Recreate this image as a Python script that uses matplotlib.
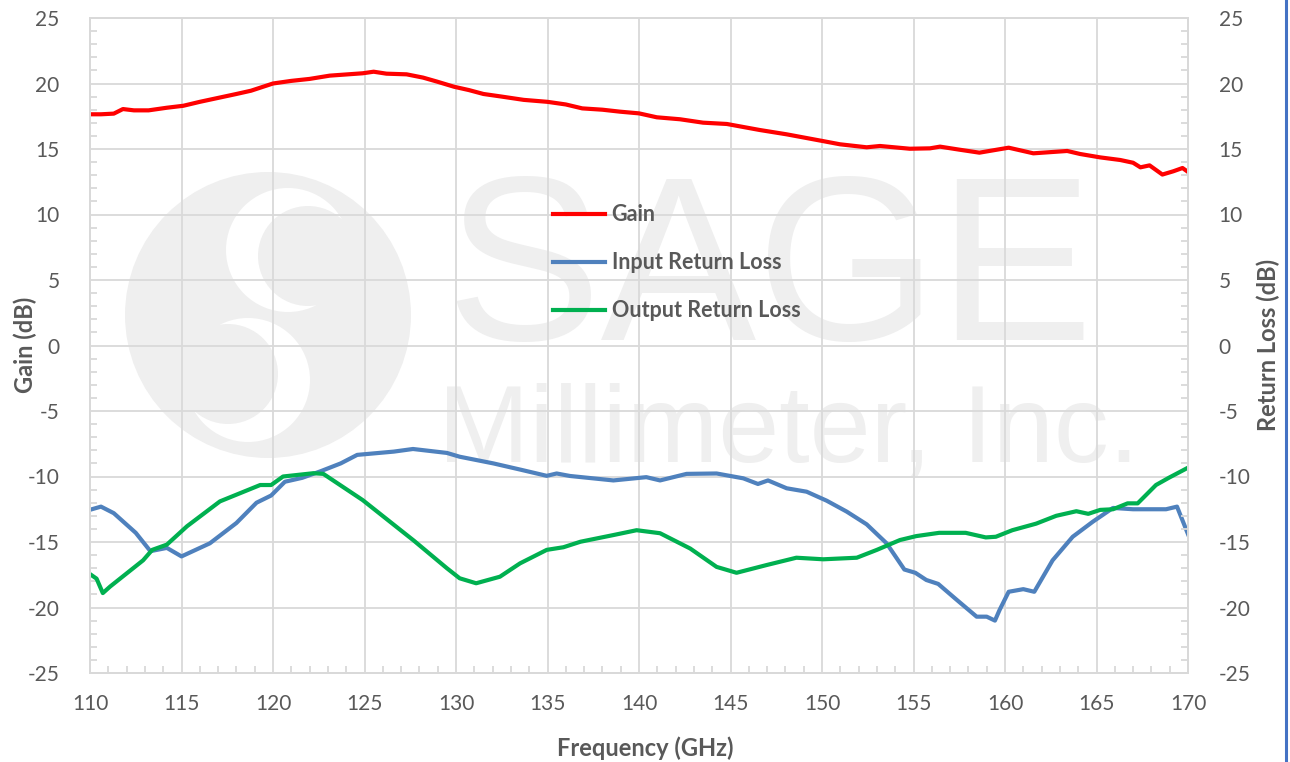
import numpy as np
import matplotlib
matplotlib.use('Agg')
import matplotlib.pyplot as plt
from matplotlib.patches import Circle
from matplotlib.lines import Line2D
from matplotlib.ticker import MultipleLocator

plt.rcParams['font.family'] = ['Lato', 'DejaVu Sans']
plt.rcParams['axes.unicode_minus'] = False

# Gain (dB) vs frequency (GHz)
gain_f = [110, 110.6, 111.3, 111.8, 112.4, 113.2, 114.2, 115.1, 116, 117,
          118, 118.8, 120, 121, 122, 123.1, 124.9, 125.5, 126.2, 127.3,
          128.2, 128.95, 129.9, 130.7, 131.5, 132.5, 133.7, 135, 136, 136.9,
          138, 138.96, 140, 140.97, 142.24, 143.5, 144.8, 146.6, 148.07, 150.07,
          150.98, 152.44, 153.17, 154.8, 155.9, 156.45, 157.5, 158.6, 160.2, 161.55,
          163.4, 164.1, 165.2, 166.3, 167.0, 167.4, 167.9, 168.6, 169.2, 169.7, 170]
gain = [17.65, 17.65, 17.7, 18.05, 17.95, 17.95, 18.15, 18.3, 18.6, 18.9,
        19.2, 19.45, 20.0, 20.2, 20.35, 20.6, 20.78, 20.9, 20.75, 20.7,
        20.45, 20.15, 19.75, 19.5, 19.2, 19.0, 18.75, 18.6, 18.4, 18.1,
        18.0, 17.85, 17.72, 17.42, 17.27, 17.01, 16.91, 16.45, 16.12, 15.6,
        15.36, 15.13, 15.23, 15.02, 15.05, 15.18, 14.95, 14.72, 15.1, 14.67,
        14.85, 14.62, 14.36, 14.16, 13.95, 13.6, 13.75, 13.05, 13.3, 13.55, 13.25]

# Input return loss
irl_f = [110.1, 110.6, 111.3, 112.5, 113.3, 114.2, 115.0, 116.55, 118.0, 119.1,
         119.9, 120.65, 121.6, 122.6, 123.7, 124.6, 126.6, 127.65, 129.5, 130.2,
         132.04, 133.5, 134.96, 135.5, 136.23, 138.6, 140.4, 141.15, 142.6, 144.24,
         145.7, 146.5, 147.05, 148.07, 149.16, 150.26, 151.35, 152.44, 153.53, 154.5,
         155.1, 155.7, 156.35, 157.35, 158.45, 159.0, 159.45, 159.7, 160.2, 161.0,
         161.6, 162.6, 163.7, 164.8, 165.9, 167.0, 168.8, 169.4, 170]
irl = [-12.5, -12.3, -12.8, -14.3, -15.7, -15.45, -16.1, -15.1, -13.55, -12.0,
       -11.45, -10.4, -10.1, -9.6, -9.0, -8.35, -8.1, -7.9, -8.2, -8.49,
       -9.0, -9.47, -9.95, -9.77, -9.96, -10.3, -10.05, -10.3, -9.8, -9.77,
       -10.14, -10.57, -10.3, -10.9, -11.16, -11.85, -12.68, -13.65, -15.1, -17.1,
       -17.35, -17.9, -18.2, -19.4, -20.7, -20.7, -21.0, -20.2, -18.8, -18.6,
       -18.8, -16.4, -14.6, -13.45, -12.4, -12.5, -12.5, -12.3, -14.4]

# Output return loss
orl_f = [110.0, 110.36, 110.7, 111.1, 112.0, 112.9, 113.4, 114.2, 115.3, 117.1,
         119.3, 119.9, 120.55, 122.2, 122.75, 124.9, 127.7, 129.5, 130.2, 131.1,
         132.4, 133.5, 134.96, 135.87, 136.8, 138.6, 139.87, 141.15, 142.8, 144.24,
         145.33, 146.97, 148.6, 150.07, 151.9, 153.0, 154.26, 155.15, 156.4, 157.85,
         158.95, 159.5, 160.4, 161.7, 162.8, 163.9, 164.55, 165.2, 165.9, 166.7,
         167.25, 168.25, 168.95, 169.9]
orl = [-17.45, -17.8, -18.9, -18.4, -17.4, -16.4, -15.6, -15.2, -13.8, -11.9,
       -10.65, -10.65, -10.0, -9.75, -9.8, -11.8, -14.9, -17.0, -17.77, -18.15,
       -17.65, -16.63, -15.6, -15.4, -14.98, -14.47, -14.1, -14.33, -15.5, -16.9,
       -17.35, -16.76, -16.2, -16.32, -16.2, -15.6, -14.85, -14.55, -14.3, -14.3,
       -14.65, -14.6, -14.1, -13.6, -13.0, -12.65, -12.85, -12.55, -12.5, -12.05,
       -12.05, -10.65, -10.1, -9.4]

txt = '#595959'
grid_c = '#d9d9d9'
wm = '#efefef'

fig = plt.figure(figsize=(12.9, 7.62), dpi=100)

# watermark layer, pixel coordinates
bg = fig.add_axes([0, 0, 1, 1], zorder=-1)
bg.set_xlim(0, 1290)
bg.set_ylim(762, 0)
bg.axis('off')
bg.add_patch(Circle((268, 315), 143, color=wm, lw=0))
bg.add_patch(Circle((288, 250), 62, color='white', lw=0))
bg.add_patch(Circle((248, 380), 62, color='white', lw=0))
bg.add_patch(Circle((308, 256), 50, color=wm, lw=0))
bg.add_patch(Circle((228, 374), 50, color=wm, lw=0))
bg.text(445, 340, 'SAGE', fontsize=168, color=wm, family='Liberation Sans',
        ha='left', va='baseline')
bg.text(438, 462, 'Millimeter, Inc.', fontsize=79, color=wm, family='Liberation Sans',
        ha='left', va='baseline')

ax = fig.add_axes([90/1290, 89/762, 1098/1290, 655/762])
ax.patch.set_visible(False)
ax2 = ax.twinx()

ax.plot(gain_f, gain, color='#ff0000', lw=3, label='Gain', solid_joinstyle='round')
ax.plot(irl_f, irl, color='#4f81bd', lw=3, label='Input Return Loss', solid_joinstyle='round')
ax.plot(orl_f, orl, color='#00b050', lw=3, label='Output Return Loss', solid_joinstyle='round')

for a in (ax, ax2):
    a.set_xlim(110, 170)
    a.set_ylim(-25, 25)
    a.yaxis.set_major_locator(MultipleLocator(5))
    a.yaxis.set_minor_locator(MultipleLocator(1))
    for s in a.spines.values():
        s.set_color(grid_c)
        s.set_linewidth(1.3)

ax.xaxis.set_major_locator(MultipleLocator(5))
ax.xaxis.set_minor_locator(MultipleLocator(1))
ax.grid(True, which='major', color=grid_c, lw=1.3)
ax.set_axisbelow(True)

ax.tick_params(which='major', length=0, labelsize=15, labelcolor=txt)
ax.tick_params(axis='x', which='major', pad=15)
ax.tick_params(axis='y', which='major', pad=22)
ax.tick_params(which='minor', direction='in', length=5, color=grid_c, width=1.3)
ax2.tick_params(which='major', length=0, labelsize=15, labelcolor=txt, pad=22)
ax2.tick_params(which='minor', direction='in', length=5, color=grid_c, width=1.3)

ax.set_xlabel('Frequency (GHz)', fontsize=17, fontweight='bold', color=txt)
ax.xaxis.set_label_coords(0.5, 14/762, transform=fig.transFigure)
ax.xaxis.label.set_va('center')
ax.set_ylabel('Gain (dB)', fontsize=17, fontweight='bold', color=txt)
ax.yaxis.set_label_coords(25/1290, 417/762, transform=fig.transFigure)
ax.yaxis.label.set_va('center')
ax2.set_ylabel('Return Loss (dB)', fontsize=17, fontweight='bold', color=txt)
ax2.yaxis.set_label_coords(1268/1290, 417/762, transform=fig.transFigure)
ax2.yaxis.label.set_va('center')

leg = ax.legend(loc='upper left', bbox_to_anchor=(534/1290, 1 - 185/762),
                bbox_transform=fig.transFigure, frameon=False, fontsize=15.5,
                handlelength=2.4, handletextpad=0.3, labelspacing=1.25)
for t in leg.get_texts():
    t.set_color(txt)
    t.set_fontweight('bold')

fig.add_artist(Line2D([1286/1290, 1286/1290], [0, 1], color='#4472c4', lw=2.2,
                      transform=fig.transFigure))

fig.savefig('out.png', dpi=100)
